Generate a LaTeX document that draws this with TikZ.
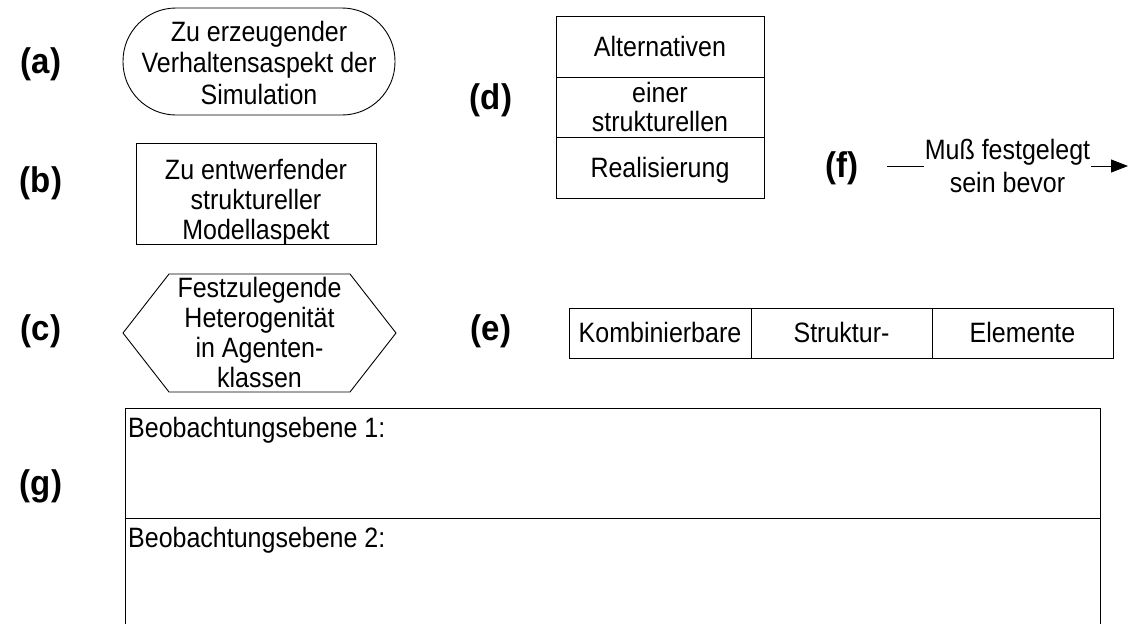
\documentclass[tikz,border=0pt]{standalone}
\usepackage{fontspec}
\usepackage{graphicx}
\setmainfont{Liberation Sans}
\usetikzlibrary{arrows.meta}
% text set slightly taller than wide, one or more centred lines;
% the reduced depth moves the glyphs onto the optical centre of the node
\newcommand\vtxt[2][27]{\raisebox{0pt}[\height][\dimexpr\depth-7pt\relax]{%
  \scalebox{1}[1.12]{\fontsize{25}{#1}\selectfont\begin{tabular}{@{}c@{}}#2\end{tabular}}}}
\begin{document}
\begin{tikzpicture}[x=1pt,y=-1pt,
  every node/.style={inner sep=0pt},
  lbl/.style={font=\fontsize{33}{36}\selectfont\bfseries},
  box/.style={draw, line width=0.9pt},
  edge/.style={line width=0.9pt}]
\useasboundingbox (0,0) rectangle (1130,624);

% panel labels
\node[lbl] (la) at (41,64) {\scalebox{1}[1.08]{(a)}};
\node[lbl] (lb) at (41,183) {\scalebox{1}[1.08]{(b)}};
\node[lbl] (lc) at (41,331) {\scalebox{1}[1.08]{(c)}};
\node[lbl] (ld) at (491,100) {\scalebox{1}[1.08]{(d)}};
\node[lbl] (le) at (491,331) {\scalebox{1}[1.08]{(e)}};
\node[lbl] (lf) at (842,168) {\scalebox{1}[1.08]{(f)}};
\node[lbl] (lg) at (41,486) {\scalebox{1}[1.08]{(g)}};

% (a) behaviour aspect: stadium shape
\node[box, rounded corners=53pt, minimum width=272pt, minimum height=107pt] (a) at (259,61.5) {};
\node (atext) at (259,63) {\vtxt[28]{Zu erzeugender\\Verhaltensaspekt der\\Simulation}};

% (b) structural model aspect
\node[box, minimum width=240pt, minimum height=101pt] (b) at (256,193.5) {};
\node (btext) at (256,200) {\vtxt{Zu entwerfender\\struktureller\\Modellaspekt}};

% (c) heterogeneity: hexagon
\node (c) at (259.5,333) {\vtxt{Festzulegende\\Heterogenität\\in Agenten-\\klassen}};
\draw[edge] (123,333) -- (169,274) -- (350,274) -- (396,333) -- (350,392) -- (169,392) -- cycle;

% (d) stacked alternatives
\node[box, minimum width=208pt, minimum height=61pt] (d1) at (660,46.5) {\vtxt{Alternativen}};
\node[box, minimum width=208pt, minimum height=60pt] (d2) at (660,107.5) {\vtxt[25]{einer\\strukturellen}};
\node[box, minimum width=208pt, minimum height=61pt] (d3) at (660,167.5) {\vtxt{Realisierung}};

% (e) combinable structure elements
\node[box, minimum width=182pt, minimum height=50pt] (e1) at (660,333) {\vtxt{Kombinierbare}};
\node[box, minimum width=181pt, minimum height=50pt] (e2) at (841.5,333) {\vtxt{Struktur-}};
\node[box, minimum width=181pt, minimum height=50pt] (e3) at (1022.5,333) {\vtxt{Elemente}};

% (f) precedence connector
\coordinate (fs) at (887,166);
\coordinate (ft) at (1128,166);
\draw[edge, -{Triangle[length=17pt,width=13pt]}] (fs) --
  node[fill=white, inner xsep=1pt] (flabel) {\vtxt[29]{Muß festgelegt\\sein bevor}} (ft);

% (g) observation levels
\draw[edge] (125,624) -- (125,408) -- (1100,408) -- (1100,624);
\draw[edge] (125,518) -- (1100,518);
\node[anchor=west] (g1) at (128,428) {\vtxt{Beobachtungsebene 1:}};
\node[anchor=west] (g2) at (128,538) {\vtxt{Beobachtungsebene 2:}};
\end{tikzpicture}
\end{document}
